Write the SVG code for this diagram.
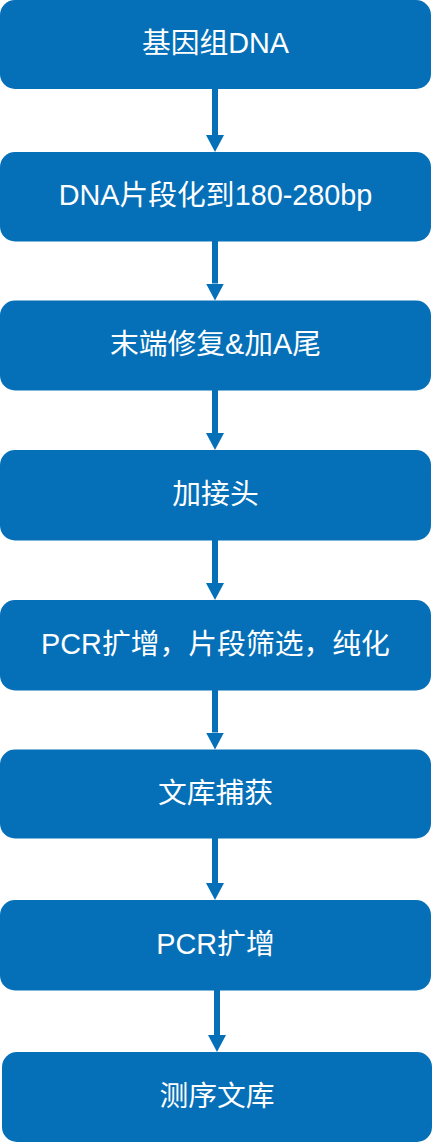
<svg xmlns="http://www.w3.org/2000/svg" width="433" height="1142" viewBox="0 0 433 1142">
<style>
.box{fill:#0570B8;}
.lbl{fill:#FFFFFF;font-family:"Liberation Sans","Noto Sans CJK SC",Arial,sans-serif;font-size:28.8px;text-anchor:middle;}
.conn{stroke:#0570B8;stroke-width:6;fill:none;marker-end:url(#ah);}
</style>
<defs>
<marker id="ah" markerUnits="userSpaceOnUse" markerWidth="17" markerHeight="18" viewBox="0 0 17 18" refX="0" refY="9" orient="auto">
<path d="M0,0 L17,9 L0,18 Z" fill="#0570B8"/>
</marker>
</defs>
<g id="connectors">
<line class="conn" x1="215" y1="89" x2="215" y2="135"/>
<line class="conn" x1="215" y1="241" x2="215" y2="283.5"/>
<line class="conn" x1="215" y1="390" x2="215" y2="433"/>
<line class="conn" x1="215" y1="540" x2="215" y2="583"/>
<line class="conn" x1="215" y1="690" x2="215" y2="732.5"/>
<line class="conn" x1="215" y1="838" x2="215" y2="883"/>
<line class="conn" x1="217" y1="990" x2="217" y2="1035"/>
</g>
<g id="n1"><rect class="box" x="0" y="0" width="431" height="89" rx="15"/><text class="lbl" x="215.5" y="53">基因组DNA</text></g>
<g id="n2"><rect class="box" x="0" y="152" width="431" height="89.5" rx="15"/><text class="lbl" x="215.5" y="205">DNA片段化到180-280bp</text></g>
<g id="n3"><rect class="box" x="0" y="300.5" width="431" height="90" rx="15"/><text class="lbl" x="215.5" y="354">末端修复&amp;加A尾</text></g>
<g id="n4"><rect class="box" x="0" y="450" width="431" height="90.5" rx="15"/><text class="lbl" x="215.5" y="503.5">加接头</text></g>
<g id="n5"><rect class="box" x="0" y="600" width="431" height="90.5" rx="15"/><text class="lbl" x="215.5" y="653.5">PCR扩增，片段筛选，纯化</text></g>
<g id="n6"><rect class="box" x="0" y="749.5" width="431" height="89" rx="15"/><text class="lbl" x="215.5" y="802.5">文库捕获</text></g>
<g id="n7"><rect class="box" x="0" y="900" width="431" height="90.5" rx="15"/><text class="lbl" x="215.5" y="953.5">PCR扩增</text></g>
<g id="n8"><rect class="box" x="2" y="1052" width="430" height="90" rx="15"/><text class="lbl" x="217" y="1105.5">测序文库</text></g>
</svg>
